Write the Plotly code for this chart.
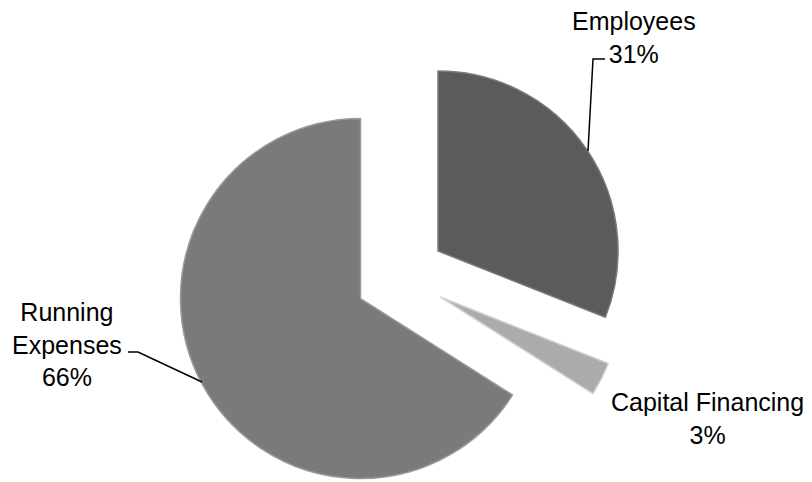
import math
import plotly.graph_objects as go

# ---- data ----
categories = ["Employees", "Capital Financing", "Running Expenses"]
shares = [31, 3, 66]
label_text = ["Employees<br>31%", "Capital Financing<br>3%", "Running<br>Expenses<br>66%"]

# ---- style / layout ----
W, H = 812, 482
colors = ["#5b5b5b", "#ababab", "#7a7a7a"]
edge_colors = ["#7a7a7a", "#d0d0d0", "#9a9a9a"]
R = 180.0                      # slice radius in px
base_cx, base_cy = 400.4, 276.6  # un-exploded centre in px
pull_px = 45.5                 # explosion distance in px

def px_x(x):
    return x / W

def px_y(y):
    return 1 - y / H

fig = go.Figure()
total = sum(shares)
start = 0.0
for i, (cat, v) in enumerate(zip(categories, shares)):
    mid = (start + v / 2) / total * 2 * math.pi
    start += v
    cx = base_cx + pull_px * math.sin(mid)
    cy = base_cy - pull_px * math.cos(mid)
    cols = ["rgba(0,0,0,0)"] * len(shares)
    cols[i] = colors[i]
    lcols = ["rgba(0,0,0,0)"] * len(shares)
    lcols[i] = edge_colors[i]
    lw = [0] * len(shares)
    lw[i] = 1.5
    fig.add_trace(go.Pie(
        labels=categories, values=shares, sort=False, direction="clockwise",
        rotation=0, textinfo="none", hoverinfo="skip", showlegend=False,
        marker=dict(colors=cols, line=dict(color=lcols, width=lw)),
        domain=dict(x=[px_x(cx - R), px_x(cx + R)],
                    y=[px_y(cy + R), px_y(cy - R)]),
    ))

# labels
label_pos = [(634, 38), (707, 418), (67, 344)]
font = dict(family="Liberation Sans, Arial, sans-serif", size=25, color="#000000")
for txt, (x, y) in zip(label_text, label_pos):
    fig.add_annotation(x=px_x(x), y=px_y(y), xref="paper", yref="paper",
                       text=txt, showarrow=False, font=font,
                       xanchor="center", yanchor="middle", align="center")

# leader lines
def path(points):
    s = "M " + " L ".join(f"{px_x(x)} {px_y(y)}" for x, y in points)
    return s

fig.add_shape(type="path", xref="paper", yref="paper",
              path=path([(605, 59), (593, 59), (588, 151)]),
              line=dict(color="#000000", width=1.5))
fig.add_shape(type="path", xref="paper", yref="paper",
              path=path([(128, 352), (138, 352), (202, 382)]),
              line=dict(color="#000000", width=1.5))

fig.update_layout(width=W, height=H, margin=dict(l=0, r=0, t=0, b=0),
                  paper_bgcolor="white", plot_bgcolor="white")
fig.write_html("out.html")
